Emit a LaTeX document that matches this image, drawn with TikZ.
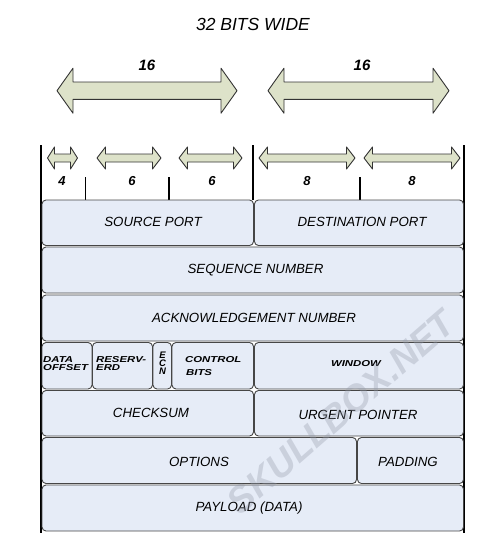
\documentclass[tikz,border=0pt]{standalone}
\usepackage{fontspec}
\setmainfont{Liberation Sans}
\definecolor{boxfill}{RGB}{230,236,247}
\definecolor{boxline}{RGB}{70,70,70}
\definecolor{arrfill}{RGB}{221,226,201}
\definecolor{wmark}{RGB}{150,156,172}
\newcommand\darr[6]{%
  \draw[arr] (#1,#3) -- ({#1+#4},{#3-#5}) -- ({#1+#4},{#3-#6}) -- ({#2-#4},{#3-#6})
   -- ({#2-#4},{#3-#5}) -- (#2,#3) -- ({#2-#4},{#3+#5}) -- ({#2-#4},{#3+#6})
   -- ({#1+#4},{#3+#6}) -- ({#1+#4},{#3+#5}) -- cycle;}
\newcommand\fld[5]{%
  \node[field, minimum width={#4-#2}, minimum height={#5-#3}] (#1) at ({(#2+#4)/2},{(#3+#5)/2}) {};}
\newcommand\sx[1]{\scalebox{1.32}[1]{#1}}
\begin{document}
\begin{tikzpicture}[x=1pt,y=-1pt,
  field/.style={draw=boxline, fill=boxfill, line width=0.9pt, rounded corners=4pt, inner sep=0pt},
  arr/.style={draw=black!80, fill=arrfill, line width=0.9pt, line join=round},
  frame/.style={line width=1.6pt, black},
  tick/.style={line width=1.1pt, black},
  lbl/.style={font=\itshape\fontsize{13.3}{14}\selectfont, inner sep=0pt},
  small/.style={font=\bfseries\itshape\fontsize{8.6}{9}\selectfont, inner sep=0pt, anchor=west},
  ecnl/.style={font=\bfseries\itshape\fontsize{9.5}{10}\selectfont, inner sep=0pt},
  num/.style={font=\bfseries\itshape\fontsize{13}{14}\selectfont, inner sep=0pt},
  bignum/.style={font=\bfseries\itshape\fontsize{15}{16}\selectfont, inner sep=0pt}]
\useasboundingbox (0,0) rectangle (494,552);
% title
\node[font=\itshape\fontsize{17.5}{20}\selectfont, inner sep=0pt] (title) at (253,24.5) {32 BITS WIDE};
% big arrows
\darr{57}{237}{90.7}{16}{22.5}{8.7}
\darr{268}{449}{90.7}{16}{22.5}{8.7}
\node[bignum] (n16a) at (147,65.5) {16};
\node[bignum] (n16b) at (362,65.5) {16};
% frame lines
\draw[frame] (41,145) -- (41,533);
\draw[frame] (464,145) -- (464,533);
\draw[frame] (253,145) -- (253,200);
\draw[tick] (85.7,177) -- (85.7,200);
\draw[tick] (169,177) -- (169,200);
\draw[tick] (360,177) -- (360,200);
% small arrows
\darr{47.5}{77.5}{158}{7}{11}{4}
\darr{97}{161}{158}{8.5}{11}{4}
\darr{179}{242}{158}{8.5}{11}{4}
\darr{259}{355}{158}{8.5}{11}{4}
\darr{364}{460}{158}{8.5}{11}{4}
\node[num] (b4) at (62,181.5) {4};
\node[num] (b6a) at (132,181.5) {6};
\node[num] (b6b) at (212,181.5) {6};
\node[num] (b8a) at (307,181.5) {8};
\node[num] (b8b) at (412,181.5) {8};
% row 1
\fld{src}{42}{200}{253.5}{245.5}
\fld{dst}{254.5}{200}{463.5}{245.5}
\node[lbl] (srct) at (153,222) {SOURCE PORT};
\node[lbl] (dstt) at (362,222) {DESTINATION PORT};
% row 2
\fld{seq}{42}{247}{463.5}{293}
\node[lbl] (seqt) at (255.5,270) {SEQUENCE NUMBER};
% row 3
\fld{ack}{42}{295}{463.5}{341}
\node[lbl] (ackt) at (254,318) {ACKNOWLEDGEMENT NUMBER};
% row 4
\fld{doff}{42}{342.5}{92}{389}
\fld{res}{92.5}{342.5}{152.5}{389}
\fld{ecn}{153}{342.5}{171.5}{389}
\fld{ctl}{172}{342.5}{253.5}{389}
\fld{win}{254.5}{342.5}{463.5}{389}
\node[small] (doff1) at (43,359.2) {\sx{DATA}};
\node[small] (doff2) at (43,367.6) {\sx{OFFSET}};
\node[small] (res1) at (96,359.2) {\sx{RESERV-}};
\node[small] (res2) at (96,367.6) {\sx{ERD}};
\node[ecnl] (ecn1) at (162.5,355.5) {E};
\node[ecnl] (ecn2) at (162.5,363.2) {C};
\node[ecnl] (ecn3) at (162.5,371) {N};
\node[small] (ctl1) at (185,359.6) {\sx{CONTROL}};
\node[small] (ctl2) at (186,372.2) {\sx{BITS}};
\node[small, anchor=center] (wint) at (356,364) {\sx{WINDOW}};
% row 5
\fld{chk}{42}{390.5}{253.5}{436}
\fld{urg}{254.5}{390.5}{463.5}{436}
\node[lbl] (chkt) at (151,413) {CHECKSUM};
\node[lbl] (urgt) at (358,414.5) {URGENT POINTER};
% row 6
\fld{opt}{42}{437.5}{356.5}{483.5}
\fld{pad}{357.5}{437.5}{463.5}{483.5}
\node[lbl] (optt) at (199,461.5) {OPTIONS};
\node[lbl] (padt) at (408,461.5) {PADDING};
% row 7
\fld{pay}{42}{485}{463.5}{531}
\node[lbl] (payt) at (249,508) {PAYLOAD (DATA)};
% watermark
\node[font=\bfseries\itshape\fontsize{37}{40}\selectfont, text=wmark, opacity=0.35, rotate=41, inner sep=0pt] (wm) at (341,412) {SKULLBOX.NET};
\end{tikzpicture}
\end{document}
